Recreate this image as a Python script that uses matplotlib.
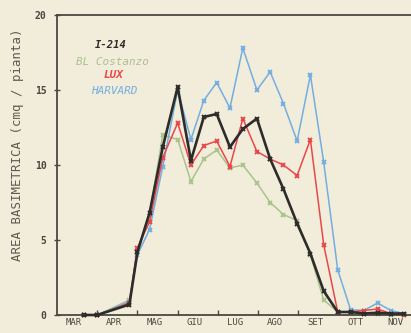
import matplotlib
matplotlib.use("Agg")
import matplotlib.pyplot as plt
from matplotlib.ticker import FixedLocator, NullFormatter

# ---- data ----
months = ["MAR", "APR", "MAG", "GIU", "LUG", "AGO", "SET", "OTT", "NOV"]
# sampling dates, in months since 1 March
x_dates = [0.67, 1.0, 1.8, 2.0, 2.3, 2.63, 3.0, 3.33, 3.65, 3.97, 4.3, 4.62,
           4.97, 5.3, 5.63, 5.97, 6.3, 6.63, 6.98, 7.3, 7.63, 7.97, 8.3, 8.63]

i214 = [0, 0, 0.7, 4.2, 6.8, 11.2, 15.2, 10.3, 13.2, 13.4, 11.2, 12.4,
        13.1, 10.4, 8.4, 6.1, 4.1, 1.6, 0.2, 0.2, 0.1, 0.15, 0.1, 0.1]
bl_costanzo = [0, 0, 1.0, 4.2, 6.7, 12.0, 11.7, 8.9, 10.4, 11.0, 9.8, 10.0,
               8.8, 7.5, 6.7, 6.3, 4.0, 1.0, 0.2, 0.2, 0.1, 0.1, 0.0, 0.0]
lux = [0, 0, 0.8, 4.5, 6.2, 10.5, 12.8, 10.0, 11.3, 11.6, 9.9, 13.1,
       10.9, 10.4, 10.0, 9.3, 11.7, 4.7, 0.2, 0.2, 0.3, 0.4, 0.1, 0.0]
harvard = [0, 0, 0.9, 4.0, 5.7, 9.9, 15.0, 11.7, 14.3, 15.5, 13.8, 17.8,
           15.0, 16.2, 14.1, 11.6, 16.0, 10.2, 3.0, 0.35, 0.3, 0.8, 0.3, 0.1]

series_names = ["I-214", "BL Costanzo", "LUX", "HARVARD"]
y_ticks = [0, 5, 10, 15, 20]

# ---- style ----
bg = "#f2eddb"
axis_col = "#4a4740"
colors = {"I-214": "#2e2c2a", "BL Costanzo": "#a9c38c",
          "LUX": "#e8474a", "HARVARD": "#72aee0"}
mono = "DejaVu Sans Mono"

fig = plt.figure(figsize=(4.11, 3.33), dpi=100, facecolor=bg)
ax = fig.add_axes([57 / 411, 18 / 333, 362 / 411, 300 / 333], facecolor=bg)

data = {"I-214": i214, "BL Costanzo": bl_costanzo, "LUX": lux, "HARVARD": harvard}
order = ["BL Costanzo", "HARVARD", "LUX", "I-214"]
for name in order:
    lw = 1.9 if name == "I-214" else 1.1
    ax.plot(x_dates, data[name], color=colors[name], lw=lw, marker="x",
            ms=3.5, mew=1.4, zorder=3 if name == "I-214" else 2, clip_on=False)

ax.set_xlim(0, 9)
ax.set_ylim(0, 20)

ax.spines["right"].set_visible(False)
for s in ["left", "bottom", "top"]:
    ax.spines[s].set_color(axis_col)
    ax.spines[s].set_linewidth(1.3)

ax.xaxis.set_major_locator(FixedLocator(list(range(1, 9))))
ax.xaxis.set_major_formatter(NullFormatter())
ax.xaxis.set_minor_locator(FixedLocator([k + 0.42 for k in range(len(months))]))
ax.set_xticklabels(months, minor=True, fontfamily=mono, fontsize=6.5,
                   color=axis_col)
ax.tick_params(axis="x", which="major", direction="in", length=3.5,
               width=1.0, color=axis_col)
ax.tick_params(axis="x", which="minor", length=0, pad=2.5)

ax.set_yticks(y_ticks)
ax.set_yticklabels([str(v) for v in y_ticks], fontfamily=mono, fontsize=7,
                   fontweight="bold", color=axis_col)
ax.tick_params(axis="y", direction="inout", length=5, width=1.0,
               color=axis_col, pad=5)

fig.text(18 / 411, 1 - 145 / 333, "AREA BASIMETRICA (cmq / pianta)",
         rotation=90, ha="center", va="center", fontfamily=mono,
         fontsize=8.9, color="#5c5950")

legend_pos = {"I-214": 45, "BL Costanzo": 62, "LUX": 75, "HARVARD": 91}
legend_x = {"I-214": 111, "BL Costanzo": 112, "LUX": 113, "HARVARD": 114}
for name in series_names:
    fig.text(legend_x[name] / 411, 1 - legend_pos[name] / 333, name,
             ha="center", va="center", fontfamily=mono, fontstyle="italic",
             fontweight="bold" if name in ("I-214", "LUX") else "normal",
             fontsize=7.6 if name == "I-214" else 7.9, color=colors[name])

fig.savefig("out.png", dpi=100, facecolor=bg)
